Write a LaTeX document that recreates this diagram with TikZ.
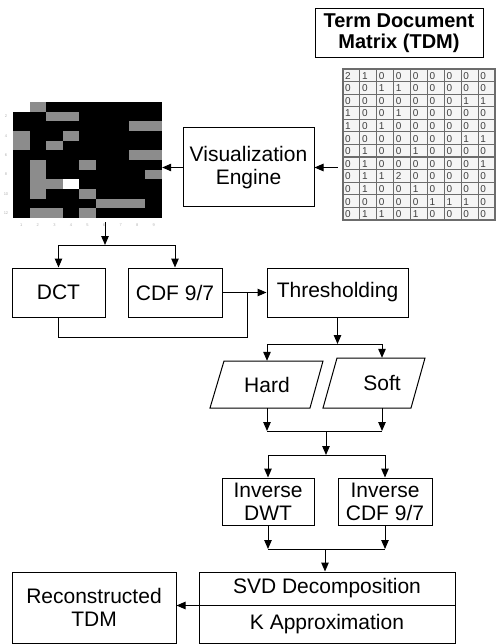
\documentclass[tikz,border=0pt]{standalone}
\usepackage{fontspec}
\setmainfont{Liberation Sans}
\usetikzlibrary{arrows.meta,calc}
\colorlet{hm0}{black}
\colorlet{hm1}{gray!90}
\colorlet{hm2}{white}
\begin{document}
\begin{tikzpicture}[x=1pt,y=-1pt,
  box/.style={draw,line width=1pt,inner sep=0pt,align=center,font=\fontsize{21}{23}\selectfont},
  ghost/.style={inner sep=0pt,align=center,font=\fontsize{21}{23}\selectfont},
  arr/.style={-{Triangle[length=9pt,width=7.5pt]},line width=1pt},
  ln/.style={line width=1pt},
  cellbox/.style={draw=gray!85!black,line width=1.2pt},
  celltxt/.style={anchor=west,inner sep=0pt,font=\fontsize{10}{10}\selectfont,text=gray!50!black},
  ticktxt/.style={inner sep=0pt,font=\fontsize{4}{4}\selectfont,text=gray!60}]
\useasboundingbox (0,0) rectangle (495,644);

% ---------- Term document matrix ----------
\node[box,font=\bfseries\fontsize{20}{21}\selectfont,minimum width=168,minimum height=49] (tdmtitle) at (399,33.5) {Term Document\\Matrix (TDM)};

\foreach \row [count=\r] in {{2,1,0,0,0,0,0,0,0},{0,0,1,1,0,0,0,0,0},{0,0,0,0,0,0,0,1,1},{1,0,0,1,0,0,0,0,0},{1,0,1,0,0,0,0,0,0},{0,0,0,0,0,0,0,1,1},{0,1,0,0,1,0,0,0,0},{0,1,0,0,0,0,0,0,1},{0,1,1,2,0,0,0,0,0},{0,1,0,0,1,0,0,0,0},{0,0,0,0,0,1,1,1,0},{0,1,1,0,1,0,0,0,0}} {
  \foreach \v [count=\c] in \row {
    % matrix cell
    \draw[cellbox,fill=gray!8] ({343+(\c-1)*16.89},{69+(\r-1)*12.58}) rectangle ++(16.89,12.58);
    \node[celltxt] at ({343+(\c-1)*16.89+2},{69+(\r-1)*12.58+6.8}) {\v};
    % heatmap cell
    \fill[hm\v] ({13+(\c-1)*16.56},{102+(\r-1)*9.67}) rectangle ++(16.66,9.77);
  }
}
\node[inner sep=0pt,minimum width=152,minimum height=151] (mat) at (419,144.5) {};
\node[inner sep=0pt,minimum width=149,minimum height=116] (heat) at (87.5,160) {};

% heatmap tick labels
\foreach \k in {2,4,...,12} \node[ticktxt] at (6,{102+(\k-0.5)*9.67}) {\k};
\foreach \k in {1,...,9} \node[ticktxt] at ({13+(\k-0.5)*16.56},225) {\k};

% ---------- Visualization engine ----------
\node[box,minimum width=131,minimum height=79] (vis) at (248.5,167.5) {Visualization\\Engine};
\draw[arr,shorten <=5pt] (mat.west |- vis.east) -- (vis.east);
\draw[arr] (vis.west) -- (heat.east |- vis.west);

% ---------- DCT / CDF ----------
\node[box,minimum width=93,minimum height=49] (dct) at (58.5,292.5) {DCT};
\node[box,minimum width=94,minimum height=49] (cdf) at (175,292.5) {CDF 9/7};
\node[box,minimum width=141,minimum height=49] (thr) at (337.5,292.5) {Thresholding};

\coordinate (hs) at (105,222);
\coordinate (hj) at (105,245);
\draw[arr] (hs) -- (hj);
\draw[ln] (dct.north |- hj) -- (cdf.north |- hj);
\draw[arr] (dct.north |- hj) -- (dct.north);
\draw[arr] (cdf.north |- hj) -- (cdf.north);

\draw[arr] (cdf.east) -- (thr.west);
\coordinate (dj) at (247,337);
\draw[ln] (dct.south) |- (dj) -- (dj |- cdf.east);

% ---------- Hard / Soft ----------
\node[ghost,minimum height=47] (hard) at (267,384.5) {Hard};
\draw[ln] (224,361) -- (323,361) -- (310,408) -- (210,408) -- cycle;
\node[ghost,minimum height=50] (soft) at (382,383) {Soft};
\draw[ln] (337,358) -- (425,358) -- (411,408) -- (323,408) -- cycle;

\coordinate (tj) at (337.5,344);
\draw[arr] (thr.south) -- (tj);
\draw[ln] (hard.north |- tj) -- (soft.north |- tj);
\draw[arr] (hard.north |- tj) -- (hard.north);
\draw[arr] (soft.north |- tj) -- (soft.north);

\coordinate (mj) at (326,431);
\draw[arr] (hard.south) -- (hard.south |- mj);
\draw[arr] (soft.south) -- (soft.south |- mj);
\draw[ln] (hard.south |- mj) -- (soft.south |- mj);

% ---------- Inverse ----------
\node[box,minimum width=92,minimum height=47] (idwt) at (268,501.5) {Inverse\\DWT};
\node[box,minimum width=94,minimum height=47] (icdf) at (385,501.5) {Inverse\\CDF 9/7};

\coordinate (ij) at (326,455);
\draw[arr] (mj) -- (ij);
\draw[ln] (idwt.north |- ij) -- (icdf.north |- ij);
\draw[arr] (idwt.north |- ij) -- (idwt.north);
\draw[arr] (icdf.north |- ij) -- (icdf.north);

% ---------- SVD ----------
\node[box,minimum width=256,minimum height=33] (svd) at (327,588.5) {SVD Decomposition};
\node[box,minimum width=256,minimum height=38] (kap) at (327,624) {K Approximation};
\node[box,minimum width=164,minimum height=71] (rec) at (94,607.5) {Reconstructed\\TDM};

\coordinate (sj) at (325,549);
\draw[arr] (idwt.south) -- (idwt.south |- sj);
\draw[arr] (icdf.south) -- (icdf.south |- sj);
\draw[ln] (idwt.south |- sj) -- (icdf.south |- sj);
\draw[arr] (sj) -- (sj |- svd.north);

\draw[arr] (svd.south west) -- (rec.east |- svd.south west);
\end{tikzpicture}
\end{document}
